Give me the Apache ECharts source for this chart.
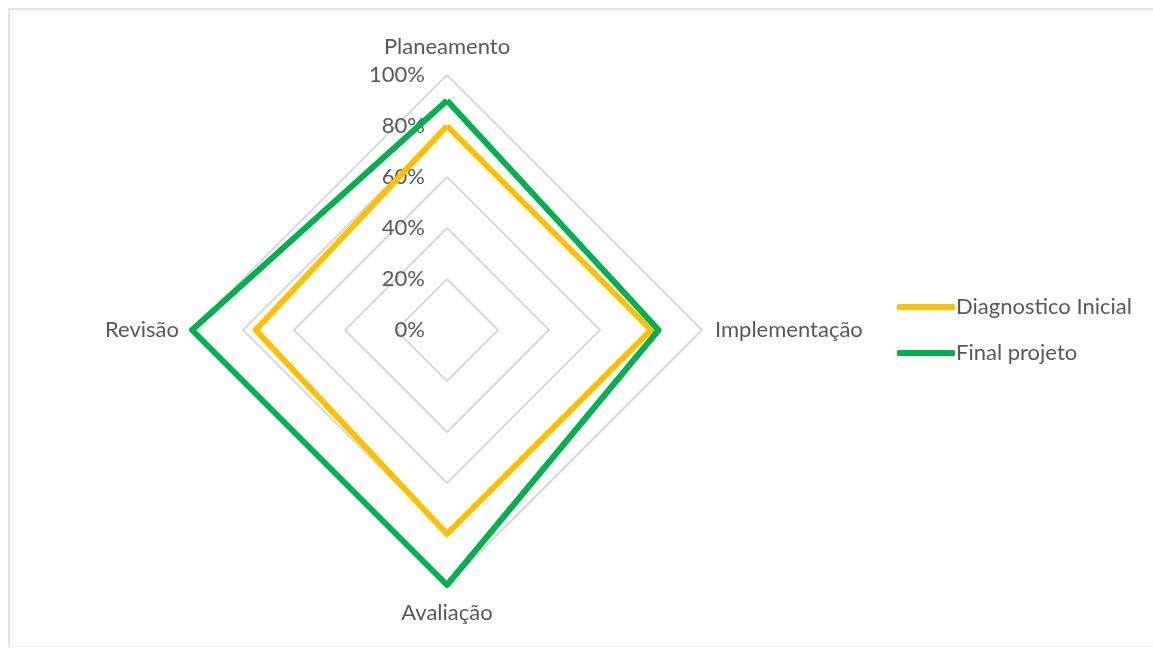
<!DOCTYPE html>
<html>
<head>
<meta charset="utf-8">
<script src="https://cdn.jsdelivr.net/npm/echarts@6/dist/echarts.min.js"></script>
<style>
  html, body { margin: 0; padding: 0; background: #fff; }
  #chart { position: absolute; left: 0; top: 0; width: 1153px; height: 648px; }
  #frame { position: absolute; left: 8px; top: 8px; width: 1160px; height: 636px;
           border-left: 2px solid #e3e3e3; border-top: 2px solid #e3e3e3; border-bottom: 1px solid #f0f0f0;
           pointer-events: none; }
</style>
</head>
<body>
<div id="chart"></div>
<div id="frame"></div>
<script>
// Categories in the original (clockwise) order
const categories = ['Planeamento', 'Implementação', 'Avaliação', 'Revisão'];
const seriesNames = ['Diagnostico Inicial', 'Final projeto'];
const diagnosticoInicial = [0.80, 0.80, 0.80, 0.75];
const finalProjeto = [0.90, 0.83, 1.00, 1.00];
const tickValues = [0, 0.2, 0.4, 0.6, 0.8, 1.0];

// ECharts radar runs counter-clockwise; reorder so the layout is clockwise like the original
const order = [0, 3, 2, 1];
const reorder = arr => order.map(i => arr[i]);

const chart = echarts.init(document.getElementById('chart'));
const font = 'Lato';
const fs = 22;
chart.setOption({
  animation: false,
  color: ['#FFC000', '#00B050'],
  legend: {
    orient: 'vertical',
    left: 897,
    top: 296,
    padding: 0,
    icon: 'roundRect',
    itemWidth: 58,
    itemHeight: 6,
    itemGap: 24,
    textStyle: { color: '#595959', fontSize: fs, fontFamily: font, padding: [0, 0, 0, -4] },
    data: seriesNames
  },
  radar: {
    center: [447, 330],
    radius: 255,
    startAngle: 90,
    shape: 'polygon',
    splitNumber: tickValues.length - 1,
    axisName: { color: '#595959', fontSize: fs, fontFamily: font, padding: [4, 0, 4, 0] },
    nameGap: 13,
    axisLine: { show: false },
    axisTick: { show: false },
    splitArea: { show: false },
    splitLine: { lineStyle: { color: '#d9d9d9', width: 2 } },
    axisLabel: { show: false },
    indicator: reorder(categories).map((name, k) => {
      const ind = { name: name, min: 0, max: 1 };
      if (k === 0) {
        ind.axisLabel = {
          show: true, color: '#595959', fontSize: fs, fontFamily: font,
          formatter: v => Math.round(v * 100) + '%', margin: 22
        };
      }
      return ind;
    })
  },
  series: [{
    type: 'radar',
    symbol: 'none',
    data: [
      { name: seriesNames[0], value: reorder(diagnosticoInicial), lineStyle: { width: 6, color: '#FFC000' } },
      { name: seriesNames[1], value: reorder(finalProjeto), lineStyle: { width: 6, color: '#00B050' } }
    ]
  }]
});
</script>
</body>
</html>
